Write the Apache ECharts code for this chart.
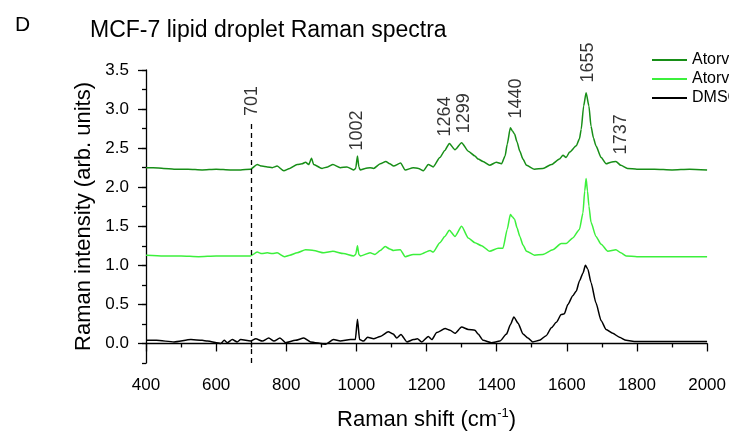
<!DOCTYPE html>
<html><head><meta charset="utf-8">
<script src="https://cdn.jsdelivr.net/npm/echarts@6/dist/echarts.min.js"></script>
<style>html,body{margin:0;padding:0;background:#fff}#c{width:729px;height:437px}</style>
</head><body><div id="c"></div>
<script>
const FONT = '"Liberation Sans", Arial, sans-serif';
const seriesNames = ['Atorvastatin 10 \u03bcM', 'Atorvastatin 1 \u03bcM', 'DMSO'];
const seriesColors = ['#178e17', '#3cf03c', '#000000'];

// Raman shift (cm-1), intensity (arb. units)
const atorvHigh = [[400,2.25],[420,2.25],[450,2.24],[480,2.23],[520,2.23],[560,2.22],[600,2.23],[640,2.22],[670,2.22],[698,2.23],[717,2.29],[730,2.27],[746,2.26],[760,2.25],[774,2.27],[793,2.21],[810,2.24],[831,2.29],[845,2.30],[855,2.32],[864,2.29],[872,2.37],[878,2.29],[902,2.24],[918,2.26],[933,2.29],[954,2.25],[973,2.26],[992,2.22],[998,2.24],[1003,2.40],[1007,2.26],[1011,2.22],[1025,2.24],[1039,2.25],[1049,2.24],[1068,2.30],[1084,2.33],[1095,2.30],[1106,2.27],[1126,2.31],[1139,2.22],[1162,2.25],[1177,2.24],[1191,2.21],[1205,2.29],[1219,2.26],[1238,2.38],[1252,2.47],[1265,2.56],[1281,2.48],[1300,2.57],[1319,2.46],[1338,2.40],[1347,2.36],[1361,2.33],[1380,2.28],[1399,2.32],[1414,2.30],[1424,2.40],[1430,2.55],[1439,2.76],[1445,2.72],[1451,2.68],[1458,2.58],[1466,2.46],[1475,2.36],[1485,2.28],[1508,2.23],[1532,2.24],[1556,2.29],[1579,2.36],[1589,2.41],[1598,2.38],[1608,2.45],[1627,2.53],[1636,2.62],[1641,2.74],[1648,3.04],[1655,3.21],[1663,3.04],[1669,2.78],[1676,2.63],[1683,2.53],[1698,2.38],[1712,2.30],[1726,2.32],[1740,2.33],[1754,2.28],[1773,2.24],[1800,2.23],[1850,2.23],[1900,2.22],[1950,2.23],[2000,2.22]];
const atorvLow = [[400,1.13],[450,1.12],[500,1.12],[550,1.11],[600,1.12],[650,1.12],[698,1.12],[717,1.17],[730,1.15],[746,1.16],[760,1.15],[774,1.16],[795,1.11],[810,1.13],[831,1.16],[855,1.20],[878,1.19],[907,1.16],[933,1.18],[963,1.15],[992,1.12],[998,1.14],[1003,1.25],[1007,1.14],[1011,1.12],[1039,1.16],[1053,1.14],[1068,1.19],[1082,1.24],[1095,1.21],[1106,1.19],[1125,1.20],[1139,1.11],[1162,1.14],[1182,1.14],[1210,1.19],[1219,1.17],[1238,1.29],[1252,1.37],[1265,1.45],[1281,1.37],[1300,1.50],[1319,1.35],[1338,1.29],[1357,1.25],[1380,1.18],[1404,1.22],[1418,1.22],[1430,1.46],[1439,1.65],[1445,1.62],[1451,1.59],[1458,1.48],[1466,1.37],[1475,1.26],[1485,1.18],[1508,1.13],[1532,1.14],[1560,1.20],[1584,1.28],[1598,1.28],[1617,1.35],[1636,1.46],[1646,1.67],[1651,1.95],[1655,2.11],[1659,1.95],[1663,1.76],[1669,1.55],[1683,1.37],[1698,1.27],[1717,1.18],[1740,1.20],[1754,1.16],[1769,1.12],[1800,1.11],[1850,1.11],[1900,1.11],[1950,1.11],[2000,1.11]];
const dmso = [[400,0.04],[430,0.04],[480,0.02],[528,0.05],[560,0.04],[575,0.03],[613,0.00],[623,0.04],[632,0.01],[646,0.05],[660,0.02],[670,0.05],[698,0.03],[713,0.06],[732,0.03],[750,0.07],[765,0.03],[782,0.07],[798,0.01],[826,0.04],[850,0.07],[869,0.02],[912,-0.01],[935,0.05],[954,0.03],[983,0.05],[997,0.05],[1003,0.31],[1009,0.05],[1020,0.03],[1032,0.08],[1049,0.06],[1068,0.09],[1091,0.15],[1105,0.12],[1115,0.07],[1127,0.115],[1144,0.02],[1163,0.05],[1174,0.06],[1186,0.02],[1205,0.09],[1215,0.05],[1229,0.14],[1253,0.19],[1267,0.17],[1281,0.13],[1300,0.21],[1319,0.18],[1338,0.17],[1347,0.12],[1361,0.04],[1385,0.01],[1409,0.03],[1428,0.12],[1439,0.24],[1449,0.34],[1461,0.26],[1475,0.12],[1489,0.07],[1503,0.02],[1522,0.04],[1541,0.10],[1556,0.20],[1570,0.27],[1584,0.37],[1593,0.38],[1603,0.50],[1617,0.61],[1627,0.67],[1636,0.80],[1646,0.90],[1653,1.00],[1660,0.95],[1669,0.78],[1683,0.52],[1698,0.29],[1712,0.18],[1731,0.13],[1750,0.08],[1769,0.04],[1797,0.025],[1850,0.025],[1900,0.025],[1950,0.025],[2000,0.025]];

const peakLabels = ['701','1002','1264','1299','1440','1655','1737'];
const peakLabelX = [701, 1003, 1253, 1306, 1456, 1660, 1755];
const peakLabelY = [2.91, 2.47, 2.65, 2.69, 2.88, 3.34, 2.42];
const markerX = 701;
const markerRange = [-0.25, 2.84];
const yMajorTicks = [0, 0.5, 1.0, 1.5, 2.0, 2.5, 3.0, 3.5];

const axisLineStyle = {color:'#000', width:1.3};
const chart = echarts.init(document.getElementById('c'), null, {renderer:'canvas'});
const lineSeries = [atorvHigh, atorvLow, dmso].map((d, i) => ({
  name: seriesNames[i], type:'line', data:d, showSymbol:false, symbol:'none',
  smooth:0.2, smoothMonotone:'x',
  lineStyle:{color:seriesColors[i], width:1.5}, itemStyle:{color:seriesColors[i]}, z:3
}));
lineSeries[2].markLine = {
  silent:true, symbol:['none','none'], label:{show:false}, animation:false,
  lineStyle:{color:'#000', type:[5,4], width:1.3},
  data:[[{coord:[markerX, markerRange[0]]},{coord:[markerX, markerRange[1]]}]]
};
const option = {
  animation:false,
  textStyle:{fontFamily:FONT},
  title:[
    {text:'D', left:10, top:10, textStyle:{fontSize:21, fontWeight:'normal', color:'#000', fontFamily:FONT}},
    {text:'MCF-7 lipid droplet Raman spectra', left:85, top:14, textStyle:{fontSize:23, fontWeight:'normal', color:'#000', fontFamily:FONT}}
  ],
  legend:{
    orient:'vertical', left:652, top:52, padding:0, itemWidth:35, itemHeight:2, itemGap:3, selectedMode:false,
    data:seriesNames.map(n => ({name:n, icon:'rect'})),
    textStyle:{fontSize:16, color:'#000', fontFamily:FONT}
  },
  grid:{left:146, right:21, top:70, bottom:74},
  xAxis:{
    type:'value', min:400, max:2000, interval:200,
    axisLine:{show:true, lineStyle:axisLineStyle},
    axisTick:{show:true, length:8, lineStyle:axisLineStyle},
    minorTick:{show:true, splitNumber:2, length:4, lineStyle:axisLineStyle},
    axisLabel:{fontSize:17, color:'#000', margin:14, fontFamily:FONT, formatter:v => String(v)},
    splitLine:{show:false}, minorSplitLine:{show:false},
    name:'{a|Raman shift (cm}{s|-1}{a|)}', nameLocation:'middle', nameGap:44,
    nameTextStyle:{rich:{a:{fontSize:22, color:'#000', fontFamily:FONT, lineHeight:26}, s:{fontSize:13, color:'#000', fontFamily:FONT, verticalAlign:'top', lineHeight:26}}}
  },
  yAxis:[{
    type:'value', min:-0.25, max:3.5, interval:0.25,
    axisLine:{show:true, lineStyle:axisLineStyle},
    axisTick:{show:true, length:4, lineStyle:axisLineStyle},
    axisLabel:{fontSize:17, color:'#000', margin:17, fontFamily:FONT,
      formatter:v => (Math.abs(v*2 - Math.round(v*2)) < 1e-6) ? v.toFixed(1) : ''},
    splitLine:{show:false},
    name:'Raman intensity (arb. units)', nameLocation:'middle', nameGap:50,
    nameTextStyle:{fontSize:22, color:'#000', fontFamily:FONT}
  },{
    type:'value', min:-0.25, max:3.5, position:'left',
    axisLine:{show:false},
    axisTick:{show:true, length:8, lineStyle:axisLineStyle, customValues:yMajorTicks},
    axisLabel:{show:false}, splitLine:{show:false}
  }],
  series: lineSeries.concat([{
    type:'scatter', symbolSize:0, silent:true, z:10,
    data: peakLabels.map((t,i) => [peakLabelX[i], peakLabelY[i], t]),
    label:{show:true, position:'inside', rotate:90, align:'left', verticalAlign:'middle',
      formatter:p => p.value[2], fontSize:18, color:'#000', fontFamily:FONT}
  }])
};
chart.setOption(option);
</script>
</body></html>
